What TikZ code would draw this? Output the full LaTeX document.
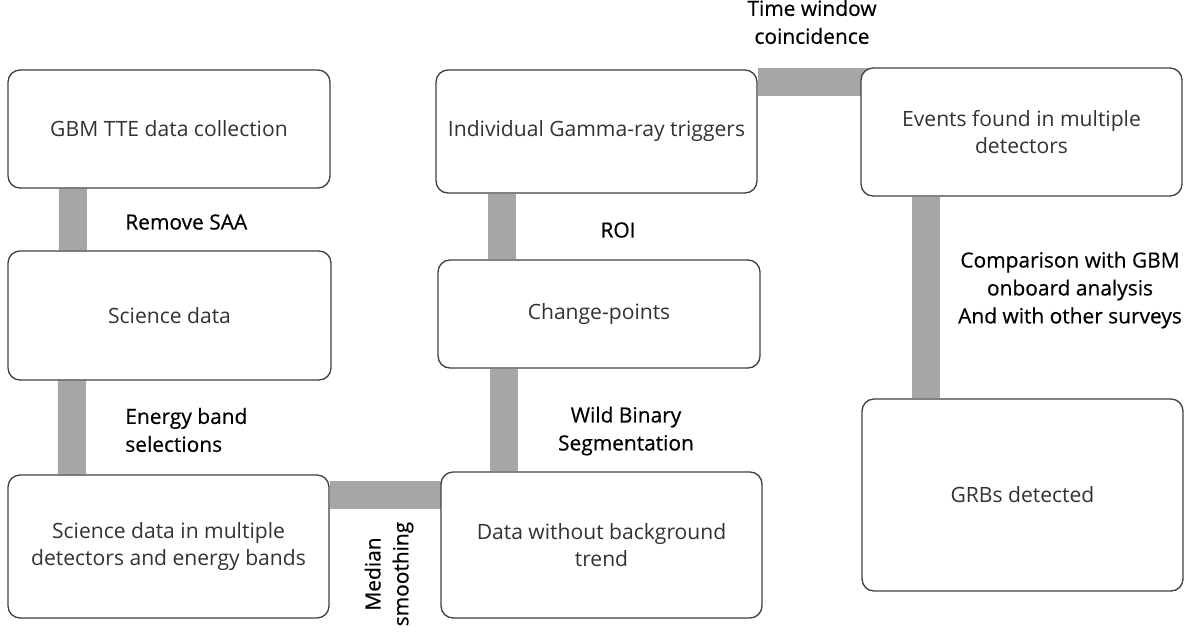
\documentclass[tikz,border=0pt]{standalone}
\usepackage{fontspec}
\setmainfont{Open Sans}
\newfontfamily\lblfont{Open Sans}[BoldFont={Open Sans},BoldFeatures={FakeBold=0.5}]
\usepackage{tikz}
\usetikzlibrary{calc,backgrounds}

\definecolor{bargray}{HTML}{A6A6A6}
\definecolor{edgegray}{HTML}{3F3F3F}
\definecolor{txtgray}{HTML}{333333}

\tikzset{
  stage/.style={shape=rectangle,rounded corners=6.8pt,draw=edgegray,line width=0.75pt,
    fill=white,inner sep=0pt,align=center,text=txtgray,font=\fontsize{12}{15.3}\selectfont},
  bar/.style={draw=bargray,line width=15.9pt},
  steplabel/.style={font=\lblfont\bfseries\fontsize{11.9}{15.9}\selectfont,text=black,inner sep=0pt}
}

\begin{document}
\begin{tikzpicture}[x=0.02cm,y=-0.02cm]
        \useasboundingbox (0,0) rectangle (1189,632);

        \node[stage,minimum width=6.44cm,minimum height=2.36cm] (gbm)      at (169,129)     {GBM TTE data collection};
        \node[stage,minimum width=6.46cm,minimum height=2.58cm] (sci)      at (169.5,315.5) {Science data};
        \node[stage,minimum width=6.42cm,minimum height=2.86cm] (scimulti) at (168.5,546.5) {Science data in multiple\\detectors and energy bands};
        \node[stage,minimum width=6.42cm,minimum height=2.92cm] (nobkg)    at (601.5,545)   {Data without background\\trend};
        \node[stage,minimum width=6.44cm,minimum height=2.16cm] (chpts)    at (599,314)     {Change-points};
        \node[stage,minimum width=6.42cm,minimum height=2.46cm] (trig)     at (596.5,131.5) {Individual Gamma-ray triggers};
        \node[stage,minimum width=6.42cm,minimum height=2.56cm] (events)   at (1021.5,132)  {Events found in multiple\\detectors};
        \node[stage,minimum width=6.42cm,minimum height=3.84cm] (grbs)     at (1022.5,495)  {GRBs detected};

        % step labels
        \node[steplabel,anchor=west] (saa)  at (125,222) {Remove SAA};
        \node[steplabel,anchor=west,align=left] (ebands) at (125,430) {Energy band\\selections};
        \node[steplabel,rotate=90,align=center] (median) at (389,574) {Median\\smoothing};
        \node[steplabel,align=center] (wbs) at (626,431) {Wild Binary\\Segmentation};
        \node[steplabel] (roi) at (618,230) {ROI};
        \node[steplabel,align=center] (twc) at (812,22) {Time window\\coincidence};
        \node[steplabel,align=center] (cmp) at (1070,290) {Comparison with GBM\\onboard analysis\\And with other surveys};

        \coordinate (mj) at ($(scimulti.north east)+(0,21)$);
        \coordinate (tj) at ($(trig.north east)+(0,12.5)$);

        \begin{pgfonlayer}{background}
	\path[bar] ($(gbm.south west)+(65.5,0)$) edge ($(sci.north west)+(65.5,0)$);
	\path[bar] ($(sci.south west)+(64.5,0)$) edge ($(scimulti.north west)+(64.5,0)$);
	\path[bar] (mj) edge (mj -| nobkg.center);
	\path[bar] ($(nobkg.north west)+(64,0)$) edge ($(chpts.south west)+(67,0)$);
	\path[bar] ($(chpts.north west)+(64.5,0)$) edge ($(trig.south west)+(66.5,0)$);
	\path[bar] (tj) edge (tj -| events.center);
	\path[bar] ($(events.south west)+(66,0)$) edge ($(grbs.north west)+(65,0)$);
        \end{pgfonlayer}
\end{tikzpicture}
\end{document}
